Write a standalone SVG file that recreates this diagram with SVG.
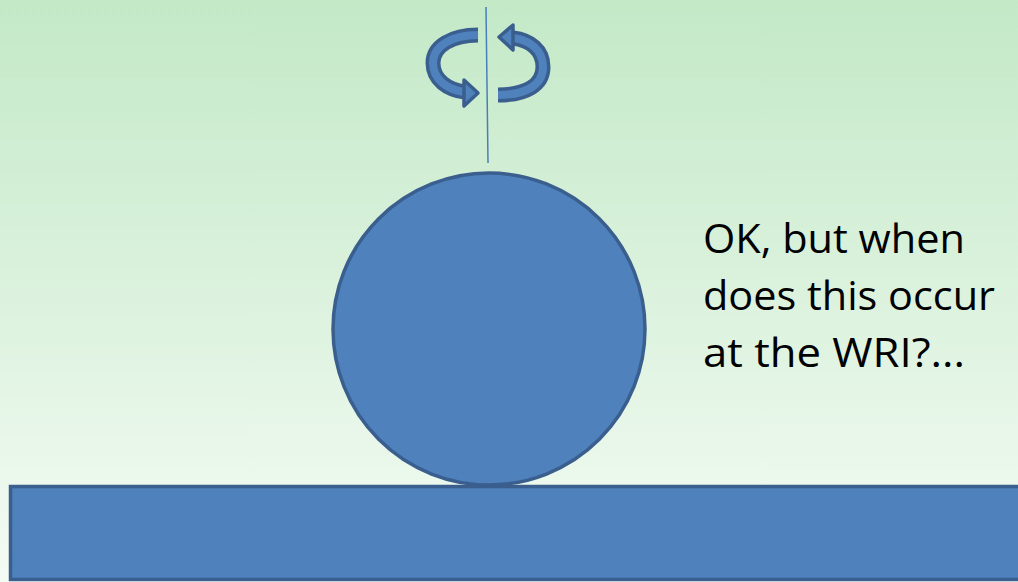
<svg xmlns="http://www.w3.org/2000/svg" width="1018" height="582" viewBox="0 0 1018 582">
<defs>
<linearGradient id="bg" x1="0" y1="0" x2="0" y2="1">
<stop offset="0" stop-color="#c3e9c7"/>
<stop offset="1" stop-color="#f4fbf4"/>
</linearGradient>
<style>
.shape{fill:#4f81bd;stroke:#3a5f8e;stroke-width:3.5}
.bandout{fill:none;stroke:#3a5f8e;stroke-width:15}
.bandin{fill:none;stroke:#4f81bd;stroke-width:8}
.head{fill:#4f81bd;stroke:#3a5f8e;stroke-width:3.5;stroke-linejoin:round}
.txt{font-family:"Open Sans","Liberation Sans",sans-serif;font-size:40px;fill:#000}
</style>
</defs>
<rect x="0" y="0" width="1018" height="582" fill="url(#bg)"/>
<g id="ground"><rect class="shape" x="10.5" y="486.5" width="1020" height="93" stroke-width="4"/></g>
<g id="ball"><circle class="shape" cx="489" cy="329" r="156"/></g>
<g id="axis"><line x1="486" y1="7" x2="488" y2="163" stroke="#4a7ebb" stroke-width="1.5"/></g>
<g id="rotation">
<path class="bandout" d="M478,35 C452,35 433,46 433,63 C433,80 448,90 465,92"/>
<path class="bandin" d="M478,35 C452,35 433,46 433,63 C433,80 448,90 465,92"/>
<polygon class="head" points="464,80 478,93 464,106"/>
<path class="bandout" d="M498,95 C526,95 543,85 543,67 C543,50 530,40 513,38"/>
<path class="bandin" d="M498,95 C526,95 543,85 543,67 C543,50 530,40 513,38"/>
<polygon class="head" points="513,25 499,37 513,50"/>
</g>
<g id="label">
<text class="txt" x="703" y="253" textLength="262" lengthAdjust="spacingAndGlyphs">OK, but when</text>
<text class="txt" x="703" y="310" textLength="292" lengthAdjust="spacingAndGlyphs">does this occur</text>
<text class="txt" x="703" y="367" textLength="262" lengthAdjust="spacingAndGlyphs">at the WRI?...</text>
</g>
</svg>
